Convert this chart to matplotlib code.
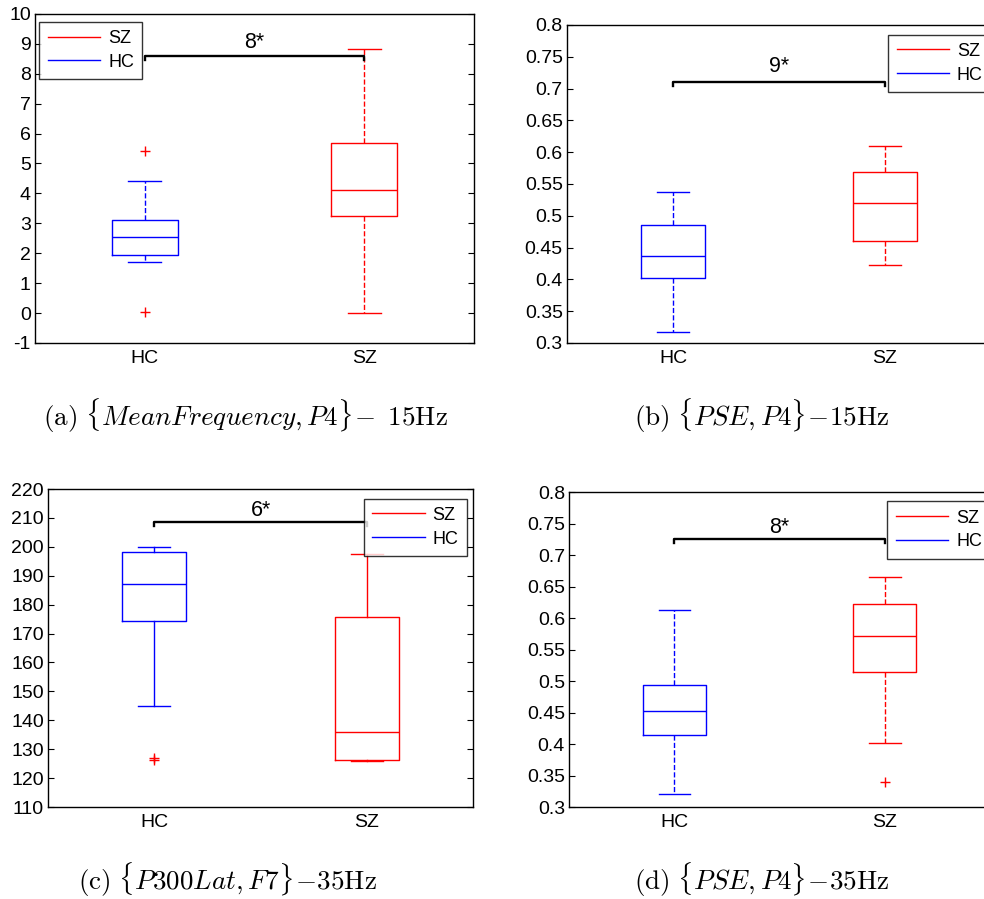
import matplotlib
matplotlib.use("Agg")
import matplotlib.pyplot as plt
from matplotlib.lines import Line2D

plt.rcParams['font.family'] = ['Liberation Sans', 'DejaVu Sans']
plt.rcParams['mathtext.fontset'] = 'cm'

groups = ["HC", "SZ"]

# box stats: whislo, q1, med, q3, whishi
a_hc = [1.70, 1.94, 2.54, 3.11, 4.40]
a_sz = [0.01, 3.25, 4.10, 5.70, 8.84]
a_hc_out = [5.43, 0.03]
a_sz_out = []

b_hc = [0.317, 0.402, 0.437, 0.486, 0.537]
b_sz = [0.423, 0.460, 0.520, 0.569, 0.610]
b_hc_out = []
b_sz_out = []

c_hc = [145.1, 174.3, 187.0, 198.1, 200.1]
c_sz = [125.8, 126.1, 135.9, 175.8, 197.4]
c_hc_out = [127.0, 126.1]
c_sz_out = []

d_hc = [0.321, 0.415, 0.453, 0.494, 0.612]
d_sz = [0.402, 0.515, 0.571, 0.623, 0.665]
d_hc_out = []
d_sz_out = [0.340]

signif = ["8*", "9*", "6*", "8*"]
bracket_y = [8.58, 0.710, 208.7, 0.725]
bracket_drop = [0.13, 0.006, 1.5, 0.006]
label_y = [9.05, 0.734, 212.7, 0.743]

ylims = [(-1, 10), (0.3, 0.8), (110, 220), (0.3, 0.8)]
yticks = [list(range(-1, 11)),
          [0.3, 0.35, 0.4, 0.45, 0.5, 0.55, 0.6, 0.65, 0.7, 0.75, 0.8],
          list(range(110, 221, 10)),
          [0.3, 0.35, 0.4, 0.45, 0.5, 0.55, 0.6, 0.65, 0.7, 0.75, 0.8]]
yticklabels = [[str(v) for v in yticks[0]],
               ["0.3", "0.35", "0.4", "0.45", "0.5", "0.55", "0.6", "0.65", "0.7", "0.75", "0.8"],
               [str(v) for v in yticks[2]],
               ["0.3", "0.35", "0.4", "0.45", "0.5", "0.55", "0.6", "0.65", "0.7", "0.75", "0.8"]]

captions = [r"$\mathrm{(a)}\ \{MeanFrequency, P4\}\!-\ \mathrm{15Hz}$",
            r"$\mathrm{(b)}\ \{PSE, P4\}\!-\!\mathrm{15Hz}$",
            r"$\mathrm{(c)}\ \{P300Lat, F7\}\!-\!\mathrm{35Hz}$",
            r"$\mathrm{(d)}\ \{PSE, P4\}\!-\!\mathrm{35Hz}$"]

panels = [(a_hc, a_sz, a_hc_out, a_sz_out),
          (b_hc, b_sz, b_hc_out, b_sz_out),
          (c_hc, c_sz, c_hc_out, c_sz_out),
          (d_hc, d_sz, d_hc_out, d_sz_out)]

rects = [[0.0356, 0.6185, 0.4461, 0.3660],
         [0.5762, 0.6185, 0.4309, 0.3537],
         [0.0488, 0.1023, 0.4319, 0.3537],
         [0.5783, 0.1023, 0.4278, 0.3504]]
legend_loc = ["upper left", "upper right", "upper right", "upper right"]
legend_anchor = [(0.01, 0.976), (1.0, 0.97), (0.985, 0.97), (1.0, 0.97)]
whisk_style = ["--", "--", "-", "--"]
cap_pos = [(0.249, 0.538), (0.774, 0.538), (0.231, 0.021), (0.774, 0.021)]

fig = plt.figure(figsize=(9.84, 8.99), dpi=100)

for i in range(4):
    hc, sz, hc_out, sz_out = panels[i]
    ax = fig.add_axes(rects[i])
    stats = []
    for name, s, out in [("HC", hc, hc_out), ("SZ", sz, sz_out)]:
        stats.append(dict(label=name, whislo=s[0], q1=s[1], med=s[2], q3=s[3],
                          whishi=s[4], fliers=out))
    colors = ["blue", "red"]
    for j in range(2):
        ax.bxp([stats[j]], positions=[j + 1], widths=0.3, capwidths=0.15,
               boxprops=dict(color=colors[j], lw=1.0),
               medianprops=dict(color=colors[j], lw=1.0),
               whiskerprops=dict(color=colors[j], lw=1.0, ls=whisk_style[i]),
               capprops=dict(color=colors[j], lw=1.0),
               flierprops=dict(marker="+", markeredgecolor="red", markersize=7,
                               markeredgewidth=1.0, ls="none"))
    ax.set_xlim(0.5, 2.5)
    ax.set_ylim(*ylims[i])
    ax.set_yticks(yticks[i])
    ax.set_yticklabels(yticklabels[i])
    ax.set_xticks([1, 2])
    ax.set_xticklabels(groups)
    ax.tick_params(axis="y", direction="in", right=True, length=4, labelsize=14, pad=3)
    ax.tick_params(axis="x", length=0, labelsize=14, pad=5)
    for sp in ax.spines.values():
        sp.set_linewidth(1.0)

    # significance bracket
    y = bracket_y[i]
    dy = bracket_drop[i]
    ax.plot([1, 1, 2, 2], [y - dy, y, y, y - dy], color="black", lw=1.7)
    ax.text(1.5, label_y[i], signif[i], ha="center", va="center", fontsize=15.5)

    handles = [Line2D([], [], color="red", lw=1.0), Line2D([], [], color="blue", lw=1.0)]
    leg = ax.legend(handles, ["SZ", "HC"], loc=legend_loc[i], bbox_to_anchor=legend_anchor[i],
                    fontsize=13, frameon=True, fancybox=False, handlelength=2.9,
                    borderpad=0.45, labelspacing=0.38, handletextpad=0.45, borderaxespad=0)
    leg.get_frame().set_edgecolor("black")
    leg.get_frame().set_linewidth(1.0)

    fig.text(cap_pos[i][0], cap_pos[i][1], captions[i], ha="center", va="center", fontsize=19.5)

fig.savefig("out.png", dpi=100)
